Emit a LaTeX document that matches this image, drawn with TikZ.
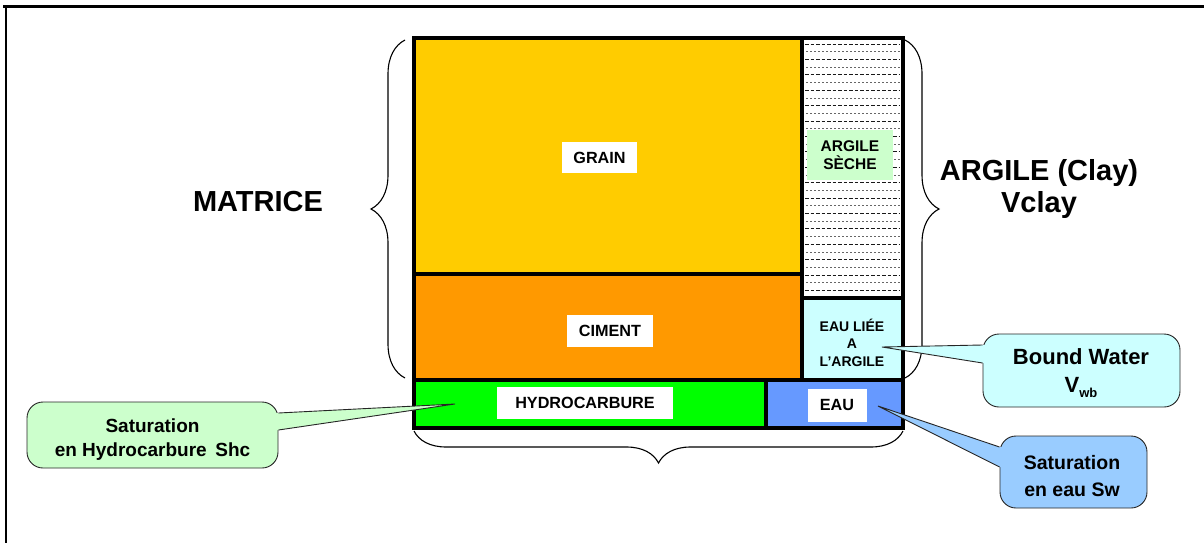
\documentclass[tikz,border=0pt]{standalone}
\usepackage{fontspec}
\setmainfont{Liberation Sans}
\usetikzlibrary{decorations.pathreplacing,calc}
\definecolor{grainc}{HTML}{FFCC00}
\definecolor{cimentc}{HTML}{FF9900}
\definecolor{hydroc}{HTML}{00FF00}
\definecolor{eauc}{HTML}{6699FF}
\definecolor{lcyan}{HTML}{CCFFFF}
\definecolor{lgreen}{HTML}{CCFFCC}
\definecolor{lblue}{HTML}{99CCFF}
\begin{document}
\begin{tikzpicture}[x=1pt,y=-1pt,
  region/.style={draw, line width=3.5pt, anchor=north west, inner sep=0pt, outer sep=0pt},
  lbl/.style={fill=white, font=\bfseries\fontsize{16.2}{18}\selectfont, inner sep=0pt, align=center},
  callout/.style={draw=black!85, line width=0.9pt, rounded corners=16pt, inner sep=0pt, align=center, font=\bfseries\fontsize{19}{24}\selectfont},
  tailline/.style={draw=black!85, line width=0.9pt},
  big/.style={font=\bfseries\fontsize{29}{32}\selectfont, align=center},
  brc/.style={decorate, decoration={brace, amplitude=#1}, line width=1.1pt}
]
\useasboundingbox (0,0) rectangle (1204,543);
% frame
\draw[line width=3pt] (3,7) -- (1204,7);
\draw[line width=2pt] (6,6) -- (6,543);

% regions
\node[region, fill=grainc, minimum width=388pt, minimum height=236pt] (grain) at (414,38) {};
\node[region, fill=cimentc, minimum width=388pt, minimum height=106pt] (ciment) at (414,274) {};
\node[region, fill=white, minimum width=101pt, minimum height=260pt] (seche) at (802,38) {};
\node[region, fill=lcyan, minimum width=101pt, minimum height=82pt] (liee) at (802,298) {};
\node[region, fill=hydroc, minimum width=352pt, minimum height=48pt] (hydro) at (414,380) {};
\node[region, fill=eauc, minimum width=137pt, minimum height=48pt] (eau) at (766,380) {};

% hatching of dry clay
\begin{scope}
\clip (805,41) rectangle (900,296);
\foreach \k in {0,...,17} {
  \draw[black!90, line width=0.9pt, dash pattern=on 3.5pt off 2pt] (805,{44+\k*15.4}) -- (900,{44+\k*15.4});
  \draw[black!60, line width=0.8pt, dash pattern=on 2pt off 2pt] (806,{51.7+\k*15.4}) -- (900,{51.7+\k*15.4});
}
\end{scope}

% labels
\node[lbl, minimum width=75pt, minimum height=31pt] (grainlbl) at (599.5,157.5) {GRAIN};
\node[lbl, minimum width=86pt, minimum height=32pt] (cimentlbl) at (610,331) {CIMENT};
\node[lbl, minimum width=176pt, minimum height=32pt] (hydrolbl) at (585,403) {HYDROCARBURE};
\node[lbl, minimum width=59pt, minimum height=33pt] (eaulbl) at (837,405) {EAU};
\node[lbl, fill=lgreen, minimum width=86pt, minimum height=50pt, font=\bfseries\fontsize{15.5}{18}\selectfont] (sechelbl) at (850,155) {ARGILE\\SÈCHE};
\node[font=\bfseries\fontsize{14}{17.5}\selectfont, align=center, inner sep=0pt] (lieelbl) at (852,342.5) {EAU LIÉE\\A\\L’ARGILE};

% braces
\coordinate (lbA) at (405,378);
\coordinate (lbB) at (405,40);
\coordinate (rbA) at (905,40);
\coordinate (rbB) at (905,378);
\coordinate (bbA) at (903,431);
\coordinate (bbB) at (414,431);
\draw[brc=34pt] (lbA) -- (lbB);
\draw[brc=34pt] (rbA) -- (rbB);
\draw[brc=32pt] (bbA) -- (bbB);

% big labels
\node[big] (matrice) at (258,202) {MATRICE};
\node[big] (argile) at (1039,189) {ARGILE (Clay)\\Vclay};

% callouts
\node[callout, fill=lgreen, minimum width=251pt, minimum height=66pt] (shc) at (152.5,435) {};
\node[font=\bfseries\fontsize{19}{24}\selectfont, align=center] (shctxt) at (152.5,440) {Saturation\\en Hydrocarbure\hspace{0.45em}Shc};
\node[callout, fill=lcyan, minimum width=197pt, minimum height=73pt] (bw) at (1081.5,370.5) {};
\node[font=\bfseries\fontsize{22}{28}\selectfont, align=center] (bwtxt) at (1081,373) {Bound Water\\V\raisebox{-5pt}{\fontsize{13}{13}\selectfont wb}};
\node[callout, fill=lblue, minimum width=147pt, minimum height=72pt] (sw) at (1073.5,472) {};
\node[font=\bfseries\fontsize{19.5}{27}\selectfont, align=center] (swtxt) at (1072,476) {Saturation\\en eau Sw};

% tails
\coordinate (shctip) at (455,404);
\coordinate (shca) at ($(shc.east)+(0,-22)$);
\coordinate (shcb) at ($(shc.east)+(0,-5)$);
\fill[lgreen] (shctip) -- (shca) -- ($(shca)+(-4,0)$) -- ($(shcb)+(-4,0)$) -- (shcb) -- cycle;
\draw[tailline] (shca) -- (shctip) -- (shcb);

\coordinate (bwtip) at (882,347);
\coordinate (bwa) at ($(bw.west)+(0,-25.5)$);
\coordinate (bwb) at ($(bw.west)+(0,-7.5)$);
\fill[lcyan] (bwtip) -- (bwa) -- ($(bwa)+(4,0)$) -- ($(bwb)+(4,0)$) -- (bwb) -- cycle;
\draw[tailline] (bwa) -- (bwtip) -- (bwb);

\coordinate (swtip) at (878,406);
\coordinate (swa) at ($(sw.west)+(0,-25)$);
\coordinate (swb) at ($(sw.west)+(0,-5)$);
\fill[lblue] (swtip) -- (swa) -- ($(swa)+(4,0)$) -- ($(swb)+(4,0)$) -- (swb) -- cycle;
\draw[tailline] (swa) -- (swtip) -- (swb);
\end{tikzpicture}
\end{document}
